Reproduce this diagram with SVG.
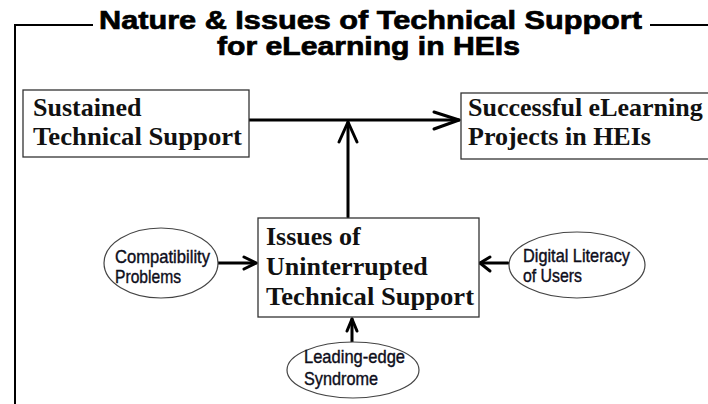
<svg xmlns="http://www.w3.org/2000/svg" width="708" height="404" viewBox="0 0 708 404">
<style>
.title{font-family:"Liberation Sans",Arial,sans-serif;font-weight:bold;font-size:26px;fill:#000;stroke:#000;stroke-width:0.7}
.box{fill:#fff;stroke:#333;stroke-width:1.3}
.bt{font-family:"Liberation Serif","Times New Roman",serif;font-weight:bold;font-size:26px;fill:#111}
.ell{fill:#fff;stroke:#444;stroke-width:1.2}
.et{font-family:"Liberation Sans",Arial,sans-serif;font-size:19px;fill:#0d0d1a;stroke:#0d0d1a;stroke-width:0.4}
.con{fill:none;stroke:#000;stroke-width:3;stroke-linecap:round;stroke-linejoin:round}
.frame{fill:none;stroke:#000;stroke-width:2}
</style>
<rect width="708" height="404" fill="#fff"/>
<g id="frame">
<polyline class="frame" points="15,404 15,25 93,25"/>
<line class="frame" x1="650" y1="25" x2="708" y2="25"/>
<text class="title" x="370.5" y="29" text-anchor="middle" textLength="543" lengthAdjust="spacingAndGlyphs">Nature &amp; Issues of Technical Support</text>
<text class="title" x="368.5" y="55" text-anchor="middle" textLength="303" lengthAdjust="spacingAndGlyphs">for eLearning in HEIs</text>
</g>
<g id="connectors">
<line class="con" x1="249" y1="120" x2="459" y2="120"/>
<polyline class="con" points="434,112 459,120 434,129"/>
<line class="con" x1="348" y1="217" x2="348" y2="122"/>
<polyline class="con" points="339,142 348,122 357,142"/>
<line class="con" x1="218" y1="263" x2="256" y2="263"/>
<polyline class="con" points="244,257 256,263 244,269"/>
<line class="con" x1="508" y1="263" x2="480" y2="263"/>
<polyline class="con" points="490,257 480,263 490,271"/>
<line class="con" x1="352" y1="342" x2="352" y2="319"/>
<polyline class="con" points="347,331 352,319 357,331"/>
</g>
<g id="sustained">
<rect class="box" x="23" y="90" width="226" height="67"/>
<text class="bt" x="33" y="116">Sustained</text>
<text class="bt" x="33" y="145" textLength="209" lengthAdjust="spacingAndGlyphs">Technical Support</text>
</g>
<g id="successful">
<rect class="box" x="461" y="93" width="260" height="66"/>
<text class="bt" x="468" y="116">Successful eLearning</text>
<text class="bt" x="468" y="145">Projects in HEIs</text>
</g>
<g id="issues">
<rect class="box" x="258" y="218" width="221" height="99"/>
<text class="bt" x="266" y="245">Issues of</text>
<text class="bt" x="266" y="275">Uninterrupted</text>
<text class="bt" x="266" y="305" textLength="208" lengthAdjust="spacingAndGlyphs">Technical Support</text>
</g>
<g id="compatibility">
<ellipse class="ell" cx="161" cy="263" rx="57" ry="35"/>
<text class="et" x="115" y="263" textLength="95" lengthAdjust="spacingAndGlyphs">Compatibility</text>
<text class="et" x="115" y="283" textLength="66" lengthAdjust="spacingAndGlyphs">Problems</text>
</g>
<g id="digital">
<ellipse class="ell" cx="577" cy="265" rx="68" ry="33"/>
<text class="et" x="523" y="262" textLength="107" lengthAdjust="spacingAndGlyphs">Digital Literacy</text>
<text class="et" x="523" y="282" textLength="59" lengthAdjust="spacingAndGlyphs">of Users</text>
</g>
<g id="leading">
<ellipse class="ell" cx="353" cy="370" rx="66" ry="28"/>
<text class="et" x="304" y="363" textLength="101" lengthAdjust="spacingAndGlyphs">Leading-edge</text>
<text class="et" x="304" y="385" textLength="74" lengthAdjust="spacingAndGlyphs">Syndrome</text>
</g>
</svg>
